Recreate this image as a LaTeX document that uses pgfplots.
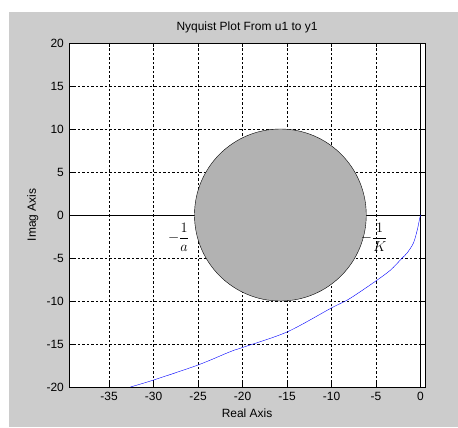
\documentclass[border=0pt]{standalone}
\usepackage{pgfplots}
\pgfplotsset{compat=1.18}
\usepackage{amsmath}
\usepackage{fontspec}
\setmainfont{Liberation Sans}

\begin{document}
\fontsize{12}{14}\selectfont
\begin{tikzpicture}[x=1bp,y=1bp]
  \useasboundingbox (0,0) rectangle (458,427);
  \fill[white] (0,0) rectangle (458,427);
  \fill[black!20] (9,0) rectangle (458,415);
  \begin{axis}[
      at={(69bp,40bp)}, anchor=south west,
      scale only axis, width=356bp, height=344bp,
      xmin=-39.5, xmax=0.5, ymin=-20, ymax=20,
      xtick={-35,-30,...,0}, ytick={-20,-15,...,20},
      /pgf/number format/assume math mode=true,
      tick label style={font=\fontsize{12}{14}\selectfont},
      label style={font=\fontsize{12}{14}\selectfont},
      title style={font=\fontsize{12}{14}\selectfont},
      grid=major,
      major grid style={black, thin, dash pattern=on 2.5pt off 2pt},
      tick style={black, thin},
      tick align=inside, major tick length=4pt,
      axis background/.style={fill=white},
      axis line style={black, thin},
      title={Nyquist Plot From u1 to y1},
      xlabel={Real Axis}, ylabel={Imag Axis},
      xticklabel style={yshift=-1pt},
      yticklabel style={xshift=-1pt},
    ]
    \addplot[black, thin] coordinates {(-39.5,0) (0.5,0)};
    \addplot[black, thin] coordinates {(0,-20) (0,20)};
    \fill[black!30, draw=black, thin] (axis cs:-15.75,0) ellipse [x radius=9.65, y radius=10];
    \addplot[blue, thin, smooth, tension=0.5] coordinates {
      (-32.6,-20) (-30,-19.19) (-25,-17.44) (-21.4,-15.9) (-20,-15.4)
      (-15,-13.6) (-10,-10.8) (-8.25,-9.9) (-6.75,-8.9) (-4.87,-7.56)
      (-3.37,-6.4) (-2.06,-5) (-1.5,-4.4) (-0.8,-3.26) (-0.37,-1.74)
      (-0.1,-0.4) (0,0)
    };
    \node[anchor=east, inner sep=0pt, font=\fontsize{14}{17}\selectfont] at (axis cs:-26.0,-2.6) {$-\dfrac{1}{a}$};
    \node[anchor=east, inner sep=0pt, font=\fontsize{14}{17}\selectfont] at (axis cs:-3.7,-2.6) {$-\dfrac{1}{K}$};
  \end{axis}
\end{tikzpicture}
\end{document}
